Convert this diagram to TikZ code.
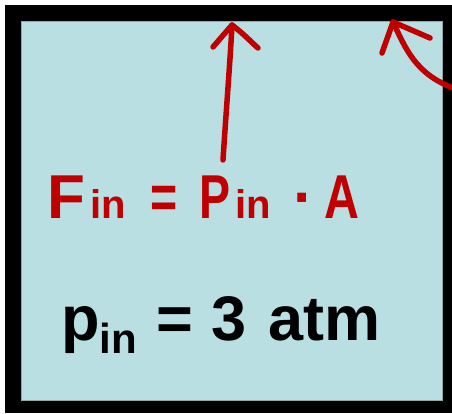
\documentclass[tikz,border=0pt]{standalone}
\usepackage{graphicx}
\usepackage{fontspec}
\setmainfont{Liberation Sans}
\definecolor{boxblue}{RGB}{185,223,227}
\definecolor{handred}{RGB}{192,0,0}
\tikzset{
  hand/.style={draw=handred, line width=5.5pt, line cap=round, line join=round},
}
\newcommand{\redsub}[1]{{\fontsize{40}{40}\selectfont #1}}
\newcommand{\narrow}[2]{\scalebox{#1}[1]{#2}}
\begin{document}
\begin{tikzpicture}[x=1pt,y=1pt]
\useasboundingbox (0,0) rectangle (452,413);
% frame
\fill[black] (5,0) rectangle (452,408);
\fill[boxblue] (21,13) rectangle (442,392);
\draw[gray!60!boxblue, line width=0.6pt] (21,13) rectangle (442,392);
% vertical arrow
\coordinate (vb) at (223,253);
\coordinate (vt) at (232,388);
\coordinate (vl) at (213,366);
\coordinate (vr) at (258,365);
\draw[hand] (vb) .. controls (226,300) and (230,350) .. (vt);
\draw[hand] (vl) -- (vt) .. controls (245,378) and (250,372) .. (vr);
% corner arrow
\coordinate (ct) at (393,391);
\coordinate (ce) at (456,324);
\coordinate (cl) at (382,360);
\coordinate (cr) at (430,375);
\draw[hand] (ct) .. controls (405,366) and (415,338) .. (ce);
\draw[hand] (cl) -- (ct) -- (cr);
% red formula
\node[anchor=base west, inner sep=0pt, text=handred, font=\bfseries\fontsize{62}{62}\selectfont] (formula) at (47.5,195)
  {F\hspace{5pt}\redsub{in}\hspace{24pt}\narrow{0.75}{=}\hspace{22.3pt}\narrow{0.75}{P}\hspace{4.8pt}\redsub{in}\hspace{22.5pt}·\hspace{10.4pt}\narrow{0.78}{A}};
% black text
\node[anchor=base west, inner sep=0pt, font=\bfseries\fontsize{63}{64}\selectfont] (pin) at (60.9,73)
  {p\raisebox{-13pt}{\fontsize{42}{44}\selectfont in}\hspace{19.1pt}=\hspace{18.8pt}3\hspace{21.4pt}atm};
\end{tikzpicture}
\end{document}
